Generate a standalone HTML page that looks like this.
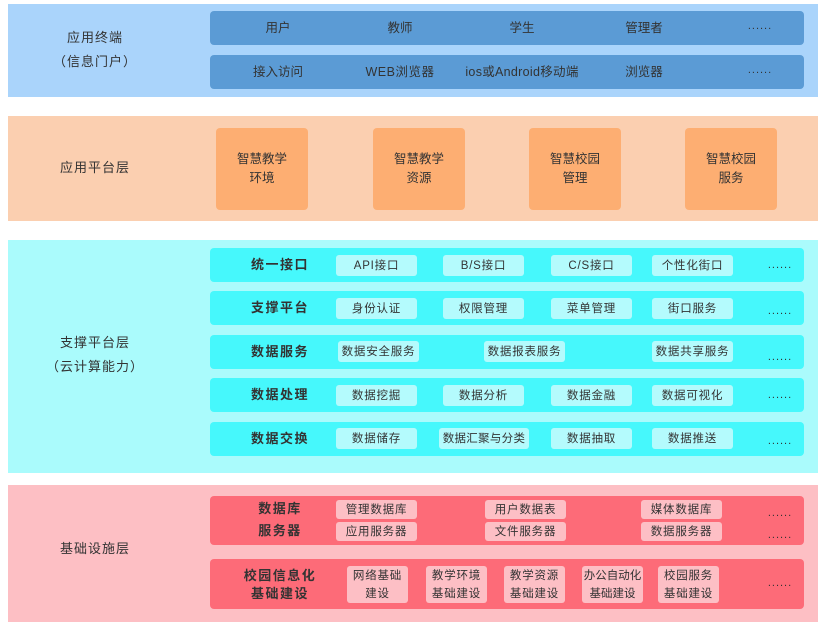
<!DOCTYPE html>
<html><head><meta charset="utf-8"><style>
*{margin:0;padding:0;box-sizing:border-box}
body{width:822px;height:627px;background:#fff;position:relative;overflow:hidden;font-family:"Liberation Sans","Noto Sans CJK SC",sans-serif;color:#333;font-size:12.5px}
div{position:absolute}
.c{display:flex;align-items:center;justify-content:center;text-align:center;line-height:18px}
.r{border-radius:4px}
.lbl{font-size:13px;letter-spacing:1px}
.b{font-weight:bold;font-size:13px;letter-spacing:1.5px}
.ib{background:#b4fbfd;border-radius:3px;font-size:11.5px;letter-spacing:0.8px}
.pb{background:#fdbfc5;border-radius:3px;font-size:11.5px;letter-spacing:0.8px;line-height:18px}
.dots{font-size:11px;letter-spacing:1px}
</style></head><body>
<!-- layer 1 -->
<div style="left:8px;top:4px;width:810px;height:93px;background:#aad4fb"></div>
<div class="c lbl" style="left:30px;top:20px;width:130px;height:60px;line-height:24px">应用终端<br>（信息门户）</div>
<div class="r" style="left:210px;top:11px;width:594px;height:34px;background:#5b9bd5"></div>
<div class="r" style="left:210px;top:55px;width:594px;height:34px;background:#5b9bd5"></div>
<div class="c" style="left:228px;top:11px;width:100px;height:34px">用户</div>
<div class="c" style="left:350px;top:11px;width:100px;height:34px">教师</div>
<div class="c" style="left:472px;top:11px;width:100px;height:34px">学生</div>
<div class="c" style="left:594px;top:11px;width:100px;height:34px">管理者</div>
<div class="c dots" style="left:735px;top:11px;width:50px;height:30px">......</div>
<div class="c" style="left:228px;top:55px;width:100px;height:34px">接入访问</div>
<div class="c" style="left:345px;top:55px;width:110px;height:34px;letter-spacing:0.5px">WEB浏览器</div>
<div class="c" style="left:452px;top:55px;width:140px;height:34px;letter-spacing:0.3px">ios或Android移动端</div>
<div class="c" style="left:594px;top:55px;width:100px;height:34px">浏览器</div>
<div class="c dots" style="left:735px;top:55px;width:50px;height:30px">......</div>
<!-- layer 2 -->
<div style="left:8px;top:116px;width:810px;height:105px;background:#fbcfb0"></div>
<div class="c lbl" style="left:30px;top:150px;width:130px;height:36px">应用平台层</div>
<div class="c r" style="left:216px;top:128px;width:92px;height:82px;background:#fdae72;line-height:19px">智慧教学<br>环境</div>
<div class="c r" style="left:373px;top:128px;width:92px;height:82px;background:#fdae72;line-height:19px">智慧教学<br>资源</div>
<div class="c r" style="left:529px;top:128px;width:92px;height:82px;background:#fdae72;line-height:19px">智慧校园<br>管理</div>
<div class="c r" style="left:685px;top:128px;width:92px;height:82px;background:#fdae72;line-height:19px">智慧校园<br>服务</div>
<!-- layer 3 -->
<div style="left:8px;top:240px;width:810px;height:233px;background:#aafbfc"></div>
<div class="c lbl" style="left:30px;top:330px;width:130px;height:50px;line-height:24px">支撑平台层<br>（云计算能力）</div>
<div class="r" style="left:210px;top:248px;width:594px;height:34px;background:#46f8fc"></div>
<div class="r" style="left:210px;top:291px;width:594px;height:34px;background:#46f8fc"></div>
<div class="r" style="left:210px;top:335px;width:594px;height:34px;background:#46f8fc"></div>
<div class="r" style="left:210px;top:378px;width:594px;height:34px;background:#46f8fc"></div>
<div class="r" style="left:210px;top:422px;width:594px;height:34px;background:#46f8fc"></div>

<div class="c b" style="left:230px;top:248px;width:100px;height:34px">统一接口</div>
<div class="c ib" style="left:336px;top:255px;width:81px;height:21px">API接口</div>
<div class="c ib" style="left:443px;top:255px;width:81px;height:21px">B/S接口</div>
<div class="c ib" style="left:551px;top:255px;width:81px;height:21px">C/S接口</div>
<div class="c ib" style="left:652px;top:255px;width:81px;height:21px">个性化街口</div>
<div class="c dots" style="left:755px;top:250px;width:50px;height:30px">......</div>

<div class="c b" style="left:230px;top:291px;width:100px;height:34px">支撑平台</div>
<div class="c ib" style="left:336px;top:298px;width:81px;height:21px">身份认证</div>
<div class="c ib" style="left:443px;top:298px;width:81px;height:21px">权限管理</div>
<div class="c ib" style="left:551px;top:298px;width:81px;height:21px">菜单管理</div>
<div class="c ib" style="left:652px;top:298px;width:81px;height:21px">街口服务</div>
<div class="c dots" style="left:755px;top:296px;width:50px;height:30px">......</div>

<div class="c b" style="left:230px;top:335px;width:100px;height:34px">数据服务</div>
<div class="c ib" style="left:338px;top:341px;width:81px;height:21px">数据安全服务</div>
<div class="c ib" style="left:484px;top:341px;width:81px;height:21px">数据报表服务</div>
<div class="c ib" style="left:652px;top:341px;width:81px;height:21px">数据共享服务</div>
<div class="c dots" style="left:755px;top:342px;width:50px;height:30px">......</div>

<div class="c b" style="left:230px;top:378px;width:100px;height:34px">数据处理</div>
<div class="c ib" style="left:336px;top:385px;width:81px;height:21px">数据挖掘</div>
<div class="c ib" style="left:443px;top:385px;width:81px;height:21px">数据分析</div>
<div class="c ib" style="left:551px;top:385px;width:81px;height:21px">数据金融</div>
<div class="c ib" style="left:652px;top:385px;width:81px;height:21px">数据可视化</div>
<div class="c dots" style="left:755px;top:380px;width:50px;height:30px">......</div>

<div class="c b" style="left:230px;top:422px;width:100px;height:34px">数据交换</div>
<div class="c ib" style="left:336px;top:428px;width:81px;height:21px">数据储存</div>
<div class="c ib" style="left:439px;top:428px;width:90px;height:21px;letter-spacing:0.3px">数据汇聚与分类</div>
<div class="c ib" style="left:551px;top:428px;width:81px;height:21px">数据抽取</div>
<div class="c ib" style="left:652px;top:428px;width:81px;height:21px">数据推送</div>
<div class="c dots" style="left:755px;top:426px;width:50px;height:30px">......</div>
<!-- layer 4 -->
<div style="left:8px;top:485px;width:810px;height:137px;background:#fdbfc4"></div>
<div class="c lbl" style="left:30px;top:536px;width:130px;height:26px">基础设施层</div>
<div class="r" style="left:210px;top:496px;width:594px;height:49px;background:#fd6b78"></div>
<div class="r" style="left:210px;top:559px;width:594px;height:50px;background:#fd6b78"></div>
<div class="c b" style="left:230px;top:499px;width:100px;height:20px">数据库</div>
<div class="c b" style="left:230px;top:521px;width:100px;height:20px">服务器</div>
<div class="c pb" style="left:336px;top:500px;width:81px;height:19px">管理数据库</div>
<div class="c pb" style="left:485px;top:500px;width:81px;height:19px">用户数据表</div>
<div class="c pb" style="left:641px;top:500px;width:81px;height:19px">媒体数据库</div>
<div class="c pb" style="left:336px;top:522px;width:81px;height:19px">应用服务器</div>
<div class="c pb" style="left:485px;top:522px;width:81px;height:19px">文件服务器</div>
<div class="c pb" style="left:641px;top:522px;width:81px;height:19px">数据服务器</div>
<div class="c dots" style="left:755px;top:498px;width:50px;height:30px">......</div>
<div class="c dots" style="left:755px;top:520px;width:50px;height:30px">......</div>
<div class="c b" style="left:225px;top:566px;width:110px;height:38px">校园信息化<br>基础建设</div>
<div class="c pb" style="left:347px;top:566px;width:61px;height:37px">网络基础<br>建设</div>
<div class="c pb" style="left:426px;top:566px;width:61px;height:37px">教学环境<br>基础建设</div>
<div class="c pb" style="left:504px;top:566px;width:61px;height:37px">教学资源<br>基础建设</div>
<div class="c pb" style="left:582px;top:566px;width:61px;height:37px;letter-spacing:0">办公自动化<br>基础建设</div>
<div class="c pb" style="left:658px;top:566px;width:61px;height:37px">校园服务<br>基础建设</div>
<div class="c dots" style="left:755px;top:568px;width:50px;height:30px">......</div>
</body></html>
